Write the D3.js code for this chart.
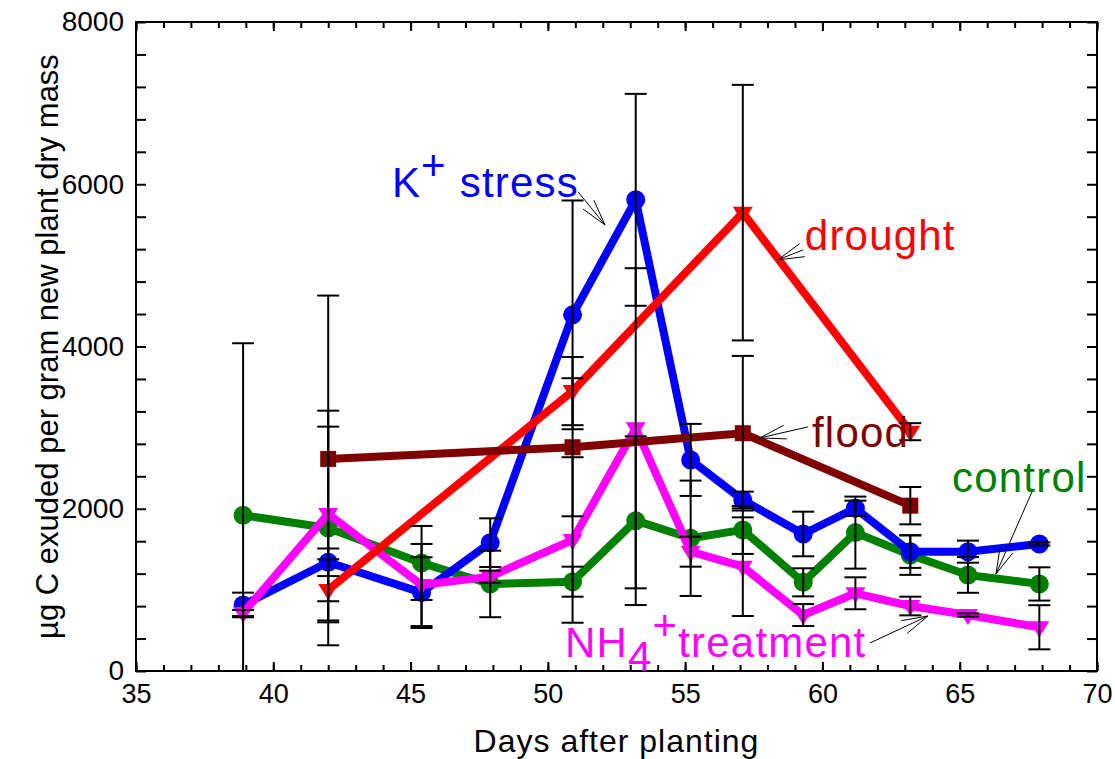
<!DOCTYPE html>
<html>
<head>
<meta charset="utf-8">
<script src="https://cdn.jsdelivr.net/npm/d3@7"></script>
<style>
    body { margin: 0; background: #fff; }
    text { font-family: "Liberation Sans", Arial, sans-serif; white-space: pre; }
</style>
</head>
<body>
<script>
// sampling days (shared by control, K+ stress, NH4+)
var days = [38.9, 42, 45.4, 47.9, 50.9, 53.2, 55.2, 57.1, 59.3, 61.2, 63.2, 65.3, 67.9];

var control = [1920, 1763, 1332, 1073, 1101, 1853, 1636, 1739, 1093, 1706, 1430, 1184, 1073];
var controlErr = [2120, 1446, 456, 410, 185, 1040, 711, 296, 173, 444, 245, 220, 205];

var kStress = [814, 1340, 966, 1582, 4390, 5808, 2602, 2108, 1689, 2006, 1471, 1471, 1566];
var kStressErr = [152, 170, 436, 300, 1410, 1306, 444, 103, 275, 94, 200, 136, 20];

var nh4 = [715, 1936, 1060, 1163, 1615, 2992, 1471, 1286, 690, 958, 801, 690, 539];
var nh4Err = [37, 1076, 506, 74, 1020, 1973, 185, 608, 135, 197, 115, 20, 272];

// drought and flood were only sampled 4 times
var stressDays = [42, 50.9, 57.1, 63.2];
var drought = [1000, 3450, 5650, 2950];
var droughtErr = [377, 420, 1575, 105];
var flood = [2614, 2758, 2931, 2038];
var floodErr = [2014, 851, 953, 230];

// axis ticks
var xMinorTicks = d3.range(35, 71, 1);
var xMajorTicks = [35, 40, 45, 50, 55, 60, 65, 70];
var yMinorTicks = d3.range(0, 8001, 400);
var yMajorTicks = [0, 2000, 4000, 6000, 8000];

// annotation labels (position in data units) and their arrows
var labelDay = [44.32, 59.36, 59.62, 64.72, 50.62];
var labelValue = [5845, 5191, 2766, 2211, 173];
var arrowTailDay = [51.10, 59.29, 59.47, 67.63, 61.73];
var arrowTailValue = [5906, 5191, 3009, 2207, 345];
var arrowTipDay = [52.08, 58.38, 57.72, 66.32, 63.84];
var arrowTipValue = [5499, 5068, 2873, 1196, 678];

window.onload = function () {

    var w = 1115, h = 759;

    var svg = d3.select("body")
        .append("svg")
        .attr("width", w)
        .attr("height", h);

    var x = d3.scaleLinear()
        .domain([35, 70])
        .range([136, 1097]);

    var y = d3.scaleLinear()
        .domain([0, 8000])
        .range([671, 22]);

    var x0 = x.range()[0], x1 = x.range()[1];
    var y0 = y.range()[0], y1 = y.range()[1];

    //axes, ticks point inward on all four sides
    function addAxis(axis, tx, ty, size) {
        var g = svg.append("g")
            .attr("class", "axis")
            .attr("transform", "translate(" + tx + "," + ty + ")")
            .call(axis);
        g.select(".domain").remove();
        g.selectAll("line").attr("stroke", "#000").attr("stroke-width", 2);
        g.selectAll("text")
            .attr("fill", "#000")
            .style("font-size", size + "px");
        return g;
    }

    addAxis(d3.axisBottom(x).tickValues(xMinorTicks).tickSize(-6).tickFormat(""), 0, y0);
    addAxis(d3.axisBottom(x).tickValues(xMajorTicks).tickSize(-9).tickPadding(13)
        .tickFormat(d3.format("d")), 0, y0, 27);
    addAxis(d3.axisTop(x).tickValues(xMinorTicks).tickSize(-6).tickFormat(""), 0, y1);
    addAxis(d3.axisTop(x).tickValues(xMajorTicks).tickSize(-9).tickFormat(""), 0, y1);

    addAxis(d3.axisLeft(y).tickValues(yMinorTicks).tickSize(-10).tickPadding(12)
        .tickFormat(function (d) {
            return yMajorTicks.indexOf(d) >= 0 ? d : "";
        }), x0, 0, 28);
    addAxis(d3.axisRight(y).tickValues(yMinorTicks).tickSize(-10).tickFormat(""), x1, 0);

    svg.append("rect")
        .attr("x", x0)
        .attr("y", y1)
        .attr("width", x1 - x0)
        .attr("height", y0 - y1)
        .attr("fill", "none")
        .attr("stroke", "#000")
        .attr("stroke-width", 2);

    //axis titles
    svg.append("text")
        .attr("x", (x0 + x1) / 2)
        .attr("y", 752)
        .attr("text-anchor", "middle")
        .style("font-size", "32px")
        .style("letter-spacing", "1px")
        .text("Days after planting");

    svg.append("text")
        .attr("transform", "translate(58," + (y0 + y1) / 2 + ") rotate(-90)")
        .attr("text-anchor", "middle")
        .style("font-size", "31px")
        .text("\u00b5g C exuded per gram new plant dry mass");

    //series, drawn bottom to top
    function makeSeries(name, ds, vals, errs, color, shape) {
        return {
            name: name, color: color, shape: shape,
            points: ds.map(function (d, i) {
                return {day: d, value: vals[i], err: errs[i]};
            })
        };
    }

    var series = [
        makeSeries("control", days, control, controlErr, "#008000", "circle"),
        makeSeries("kstress", days, kStress, kStressErr, "#0000ff", "circle"),
        makeSeries("nh4", days, nh4, nh4Err, "#ff00ff", "triangle"),
        makeSeries("drought", stressDays, drought, droughtErr, "#ff0000", "triangle"),
        makeSeries("flood", stressDays, flood, floodErr, "#800000", "square")
    ];

    var line = d3.line()
        .x(function (d) { return x(d.day); })
        .y(function (d) { return y(d.value); });

    var groups = svg.selectAll(".series")
        .data(series)
        .enter()
        .append("g")
        .attr("class", "series");

    groups.append("path")
        .attr("d", function (d) { return line(d.points); })
        .attr("fill", "none")
        .attr("stroke", function (d) { return d.color; })
        .attr("stroke-width", 8)
        .attr("stroke-linejoin", "round");

    groups.each(function (s) {
        var marks = d3.select(this).selectAll(".mark")
            .data(s.points)
            .enter();
        if (s.shape === "circle") {
            marks.append("circle")
                .attr("cx", function (d) { return x(d.day); })
                .attr("cy", function (d) { return y(d.value); })
                .attr("r", 9.5)
                .attr("fill", s.color);
        } else if (s.shape === "square") {
            marks.append("rect")
                .attr("x", function (d) { return x(d.day) - 8; })
                .attr("y", function (d) { return y(d.value) - 8; })
                .attr("width", 16)
                .attr("height", 16)
                .attr("fill", s.color);
        } else {
            marks.append("path")
                .attr("transform", function (d) {
                    return "translate(" + x(d.day) + "," + y(d.value) + ")";
                })
                .attr("d", "M-10,-6L10,-6L0,10Z")
                .attr("fill", s.color);
        }
    });

    //error bars on top of everything
    var bars = [];
    series.forEach(function (s) {
        s.points.forEach(function (p) {
            bars.push({day: p.day, hi: p.value + p.err, lo: Math.max(p.value - p.err, 0), clipped: p.value - p.err < 0});
        });
    });

    var eb = svg.append("g")
        .attr("class", "errorbars")
        .attr("stroke", "#000")
        .attr("stroke-width", 2);

    eb.selectAll(".stem")
        .data(bars)
        .enter()
        .append("line")
        .attr("x1", function (d) { return x(d.day); })
        .attr("x2", function (d) { return x(d.day); })
        .attr("y1", function (d) { return y(d.hi); })
        .attr("y2", function (d) { return y(d.lo); });

    eb.selectAll(".capHi")
        .data(bars)
        .enter()
        .append("line")
        .attr("x1", function (d) { return x(d.day) - 11; })
        .attr("x2", function (d) { return x(d.day) + 11; })
        .attr("y1", function (d) { return y(d.hi); })
        .attr("y2", function (d) { return y(d.hi); });

    eb.selectAll(".capLo")
        .data(bars.filter(function (d) { return !d.clipped; }))
        .enter()
        .append("line")
        .attr("x1", function (d) { return x(d.day) - 11; })
        .attr("x2", function (d) { return x(d.day) + 11; })
        .attr("y1", function (d) { return y(d.lo); })
        .attr("y2", function (d) { return y(d.lo); });

    //labels: parts are [text, shift] where -1 = superscript, 1 = subscript
    var labelParts = [
        [["K", 0], ["+", -1], [" stress", 0]],
        [["drought", 0]],
        [["flood", 0]],
        [["control", 0]],
        [["NH", 0], ["4", 1], ["+", -1], ["treatment", 0]]
    ];
    var labelColors = ["#0000ff", "#ff0000", "#800000", "#008000", "#ff00ff"];
    var shiftPx = {"-1": -17, "0": 0, "1": 14};

    labelParts.forEach(function (parts, i) {
        var t = svg.append("text")
            .attr("x", x(labelDay[i]))
            .attr("y", y(labelValue[i]))
            .attr("fill", labelColors[i])
            .style("font-size", "42px")
            .style("letter-spacing", "1.2px");
        var cur = 0;
        parts.forEach(function (p) {
            var target = shiftPx[p[1]];
            t.append("tspan")
                .attr("dy", target - cur)
                .text(p[0]);
            cur = target;
        });
    });

    //thin arrows from labels to the curves
    var arrows = svg.append("g")
        .attr("stroke", "#000")
        .attr("stroke-width", 1)
        .attr("fill", "none");

    labelDay.forEach(function (d, i) {
        var tx = x(arrowTailDay[i]), ty = y(arrowTailValue[i]);
        var px = x(arrowTipDay[i]), py = y(arrowTipValue[i]);
        var ang = Math.atan2(ty - py, tx - px);
        var len = 27, spread = 15 * Math.PI / 180;
        var path = d3.path();
        path.moveTo(tx, ty);
        path.lineTo(px, py);
        [-spread, spread].forEach(function (s) {
            path.moveTo(px, py);
            path.lineTo(px + len * Math.cos(ang + s), py + len * Math.sin(ang + s));
        });
        arrows.append("path").attr("d", path.toString());
    });
};
</script>
</body>
</html>
